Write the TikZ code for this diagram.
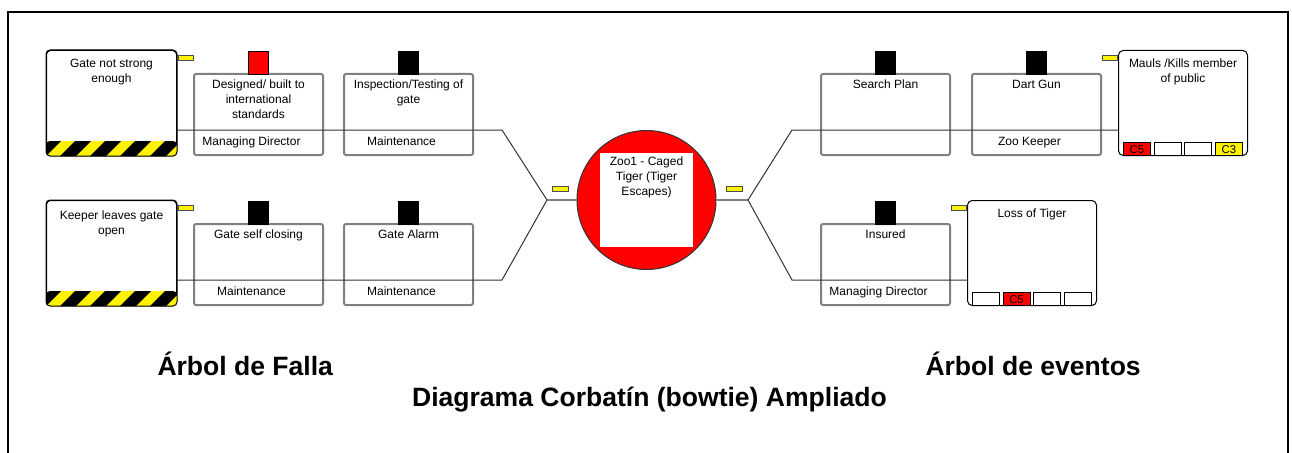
\documentclass[tikz,border=0pt]{standalone}
\usepackage{fontspec}
\setmainfont{Liberation Sans}
\usetikzlibrary{positioning,calc}

\definecolor{boxgray}{RGB}{128,128,128}
\definecolor{linegray}{RGB}{51,51,51}

\tikzset{every picture/.style={line width=0.75pt}}
\tikzset{
  threat/.style={draw=black, fill=white, rounded corners=3pt, minimum width=97.5pt, minimum height=78.75pt, inner sep=0pt, anchor=north west},
  barrier/.style={draw=boxgray, fill=white, line width=1.5pt, rounded corners=1.5pt, minimum width=96.75pt, minimum height=60.75pt, inner sep=0pt, anchor=north west},
  conseq/.style={draw=black, fill=white, rounded corners=3.5pt, minimum width=96.75pt, minimum height=78.75pt, inner sep=0pt, anchor=north west},
  flag/.style={draw=black, line width=0.5pt, fill=black, minimum width=15pt, minimum height=17.25pt, inner sep=0pt},
  tab/.style={draw=black!70, fill=yellow, line width=0.5pt, minimum width=11.25pt, minimum height=3.75pt, inner sep=0pt},
  cell/.style={draw=black, line width=0.5pt, fill=white, minimum width=20.25pt, minimum height=9.75pt, inner sep=0pt, anchor=south west, font=\fontsize{8.5}{9}\selectfont},
  txt/.style={font=\fontsize{9}{11.25}\selectfont, align=center, inner sep=0pt},
  heading/.style={font=\fontsize{19.9}{24}\selectfont\bfseries, inner sep=0pt},
  conn/.style={draw=linegray, line width=0.75pt},
  stub/.style={draw=boxgray, line width=1.5pt},
}

\begin{document}
\begin{tikzpicture}[x=0.75pt,y=0.75pt,yscale=-1,xscale=1]
\useasboundingbox (0,0) rectangle (1292,453);

%Frame
\draw [line width=1.5pt] (8,455) -- (8,12) -- (1288,12) -- (1288,455) ;

% Threats
\node [threat] (gate) at (46,50) {};
\node [threat] (keeper) at (46,200) {};
\begin{scope}
\clip [rounded corners=3pt] ($(gate.south west)+(0,-15)$) rectangle (gate.south east);
\fill [yellow] ($(gate.south west)+(0,-15)$) rectangle (gate.south east);
\foreach \k in {0,...,9} \fill [black] ($(gate.south west)+(\k*30-16,0)$) -- ++(15,-15) -- ++(16,0) -- ++(-15,15) -- cycle;
\end{scope}
\begin{scope}
\clip [rounded corners=3pt] ($(keeper.south west)+(0,-15)$) rectangle (keeper.south east);
\fill [yellow] ($(keeper.south west)+(0,-15)$) rectangle (keeper.south east);
\foreach \k in {0,...,9} \fill [black] ($(keeper.south west)+(\k*30-16,0)$) -- ++(15,-15) -- ++(16,0) -- ++(-15,15) -- cycle;
\end{scope}
\draw [rounded corners=3pt] (gate.south west) rectangle (gate.north east) ;
\draw [rounded corners=3pt] (keeper.south west) rectangle (keeper.north east) ;
\node [tab, anchor=north west] (gatey) at ($(gate.north east)+(1,5)$) {};
\node [tab, anchor=north west] (keepery) at ($(keeper.north east)+(1,5)$) {};
\node [txt, below=6.5pt of gate.north] (gatet) {Gate not strong\\enough};
\node [txt, below=7.5pt of keeper.north] (keepert) {Keeper leaves gate\\open};

% Preventive barriers
\node [barrier] (design) at (193,73) {};
\node [barrier, right=14.25pt of design] (insp) {};
\node [barrier] (selfclose) at (193,223) {};
\node [barrier, right=14.25pt of selfclose] (alarm) {};
\node [flag, fill=red, above=-1pt of design] (designf) {};
\node [flag, above=-1pt of insp] (inspf) {};
\node [flag, above=-1pt of selfclose] (selfclosef) {};
\node [flag, above=-1pt of alarm] (alarmf) {};
\node [txt, below=5pt of design.north] (designt) {Designed/ built to\\international\\standards};
\node [txt, below=5pt of insp.north] (inspt) {Inspection/Testing of\\gate};
\node [txt, below=5pt of selfclose.north] (selfcloset) {Gate self closing};
\node [txt, below=5pt of alarm.north] (alarmt) {Gate Alarm};
\node [txt, anchor=base] (designm) at ($(design.south)+(-7,-10.5)$) {Managing Director};
\node [txt, anchor=base] (inspm) at ($(insp.south)+(-7,-10.5)$) {Maintenance};
\node [txt, anchor=base] (selfclosem) at ($(selfclose.south)+(-7,-11)$) {Maintenance};
\node [txt, anchor=base] (alarmm) at ($(alarm.south)+(-7,-11)$) {Maintenance};

% Top event
\node [circle, draw=black!80, fill=red, minimum size=104.25pt, inner sep=0pt] (tiger) at (646.5,200) {};
\node [fill=white, minimum width=69.75pt, minimum height=70.5pt, inner sep=0pt] (tigersq) at (tiger.center) {};
\node [txt, below=3.2pt of tigersq.north] (tigert) {Zoo1 - Caged\\Tiger (Tiger\\Escapes)};
\node [tab, minimum width=12pt] (tigerly) at (560,188.5) {};
\node [tab, minimum width=12pt] (tigerry) at (734.5,188.5) {};

% Recovery barriers
\node [barrier] (search) at (820,73) {};
\node [barrier, right=15pt of search] (dart) {};
\node [barrier] (insured) at (820,223) {};
\node [flag, above=-1pt of search] (searchf) {};
\node [flag, above=-1pt of dart] (dartf) {};
\node [flag, above=-1pt of insured] (insuredf) {};
\node [txt, below=5pt of search.north] (searcht) {Search Plan};
\node [txt, below=5pt of dart.north] (dartt) {Dart Gun};
\node [txt, below=5pt of insured.north] (insuredt) {Insured};
\node [txt, anchor=base] (dartm) at ($(dart.south)+(-7,-10.5)$) {Zoo Keeper};
\node [txt, anchor=base] (insuredm) at ($(insured.south)+(-7,-11)$) {Managing Director};

% Consequences
\node [conseq] (mauls) at (1118,50) {};
\node [conseq] (loss) at (967,200) {};
\node [tab, anchor=north east] (maulsy) at ($(mauls.north west)+(0,5)$) {};
\node [tab, anchor=north east] (lossy) at ($(loss.north west)+(0,5)$) {};
\node [txt, below=6pt of mauls.north] (maulst) {Mauls /Kills member\\of public};
\node [txt, below=6.5pt of loss.north] (losst) {Loss of Tiger};
\node [cell, fill=red] (maulsa) at ($(mauls.south west)+(5,0)$) {C5};
\node [cell, right=2.25pt of maulsa] (maulsb) {};
\node [cell, right=2.25pt of maulsb] (maulsc) {};
\node [cell, fill=yellow, right=2.25pt of maulsc] (maulsd) {C3};
\node [cell] (lossa) at ($(loss.south west)+(5,0)$) {};
\node [cell, fill=red, right=2.25pt of lossa] (lossb) {C5};
\node [cell, right=2.25pt of lossb] (lossc) {};
\node [cell, right=2.25pt of lossc] (lossd) {};

% Connectors
\coordinate (lu) at (502,130);
\coordinate (ll) at (502,280);
\coordinate (jl) at (547,200);
\coordinate (jr) at (748,200);
\coordinate (ru) at (792,130);
\coordinate (rl) at (792,280);
\draw [conn] (gate.east |- lu) -- (lu) -- (jl) ;
\draw [conn] (keeper.east |- ll) -- (ll) -- (jl) ;
\draw [stub] (jl) -- (tiger.west) ;
\draw [stub] (tiger.east) -- (jr) ;
\draw [conn] (jr) -- (ru) -- (mauls.west |- ru) ;
\draw [conn] (jr) -- (rl) -- (loss.west |- rl) ;

% Text Node
\node [heading, anchor=base west] (faultt) at (157,375) {Árbol de Falla};
% Text Node
\node [heading, anchor=base west] (eventt) at (925,375) {Árbol de eventos};
% Text Node
\node [heading, anchor=base] (titlet) at (649.5,406) {Diagrama Corbatín (bowtie) Ampliado};

\end{tikzpicture}
\end{document}
